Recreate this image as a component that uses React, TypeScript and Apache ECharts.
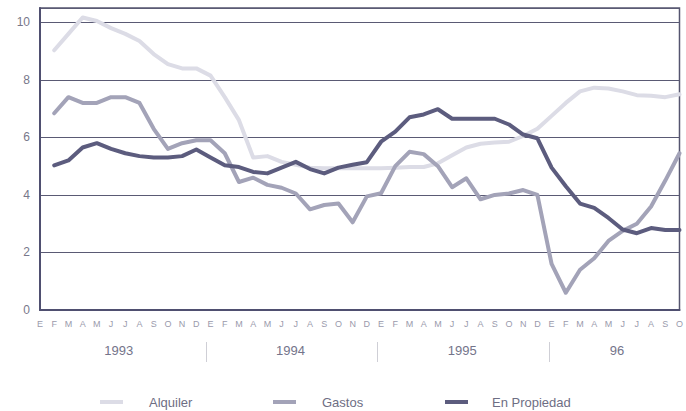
import React, { useEffect, useRef } from "react";
import * as echarts from "echarts";

const monthLabels = [
  "E","F","M","A","M","J","J","A","S","O","N","D",
  "E","F","M","A","M","J","J","A","S","O","N","D",
  "E","F","M","A","M","J","J","A","S","O","N","D",
  "E","F","M","A","M","J","J","A","S","O",
];

const yearLabels = ["1993", "1994", "1995", "96"];
const yearStartIndex = [0, 12, 24, 36];
const yearEndIndex = [11, 23, 35, 45];

const seriesNames = ["Alquiler", "Gastos", "En Propiedad"];

const alquiler = [
  null, 9.03, 9.6, 10.17, 10.05, 9.8, 9.6, 9.35, 8.9, 8.55, 8.4, 8.4,
  8.15, 7.4, 6.6, 5.3, 5.35, 5.15, 5.05, 4.95, 4.93, 4.93, 4.93, 4.93,
  4.93, 4.95, 4.97, 4.97, 5.1, 5.38, 5.65, 5.78, 5.82, 5.85, 6.05, 6.3,
  6.75, 7.2, 7.6, 7.73, 7.7, 7.6, 7.47, 7.45, 7.4, 7.5,
];

const gastos = [
  null, 6.84, 7.4, 7.2, 7.2, 7.4, 7.4, 7.2, 6.3, 5.6, 5.8, 5.9,
  5.9, 5.45, 4.45, 4.6, 4.35, 4.25, 4.05, 3.5, 3.65, 3.7, 3.05, 3.95,
  4.06, 5.0, 5.5, 5.42, 5.0, 4.27, 4.58, 3.85, 4.0, 4.05, 4.17, 4.0,
  1.6, 0.6, 1.4, 1.8, 2.4, 2.75, 3.0, 3.6, 4.5, 5.45,
];

const enPropiedad = [
  null, 5.03, 5.2, 5.65, 5.8, 5.6, 5.45, 5.35, 5.3, 5.3, 5.35, 5.58,
  5.3, 5.03, 4.97, 4.8, 4.75, 4.95, 5.15, 4.9, 4.75, 4.95, 5.05, 5.14,
  5.85, 6.2, 6.7, 6.8, 6.98, 6.65, 6.65, 6.65, 6.65, 6.45, 6.1, 5.97,
  4.95, 4.3, 3.7, 3.55, 3.2, 2.8, 2.67, 2.85, 2.78, 2.78,
];

const colors = ["#dcdce6", "#a3a3b8", "#5c5c7e"];

export default function App() {
  const ref = useRef<HTMLDivElement>(null);

  useEffect(() => {
    if (!ref.current) return;
    const chart = echarts.init(ref.current, undefined, { renderer: "svg" });
    const W = 686;
    const gridLeft = 40;
    const gridRight = 2;
    const step = (W - gridLeft - gridRight) / (monthLabels.length - 1);
    const xAt = (i: number) => gridLeft + i * step;
    const font = "Liberation Sans, Arial, sans-serif";

    const graphics: any[] = [];
    yearLabels.forEach((lab, k) => {
      const s = yearStartIndex[k];
      const e = yearEndIndex[k];
      let cx = (xAt(s) + xAt(e)) / 2;
      if (k === 3) cx = 617;
      graphics.push({
        type: "text",
        x: cx,
        y: 350,
        style: {
          text: lab,
          fill: "#74748a",
          font: `13px ${font}`,
          textAlign: "center",
          textVerticalAlign: "middle",
        },
      });
      if (k > 0) {
        const sx = Math.round((xAt(s - 1) + xAt(s)) / 2) + 1.5;
        graphics.push({
          type: "line",
          shape: { x1: sx, y1: 342, x2: sx, y2: 362 },
          style: { stroke: "#cfcfd6", lineWidth: 1 },
        });
      }
    });

    const legendPos = [
      { sx: 100, tx: 149 },
      { sx: 273, tx: 322 },
      { sx: 445, tx: 492 },
    ];
    seriesNames.forEach((n, k) => {
      graphics.push({
        type: "line",
        shape: { x1: legendPos[k].sx, y1: 402, x2: legendPos[k].sx + 23, y2: 402 },
        style: { stroke: colors[k], lineWidth: 4 },
      });
      graphics.push({
        type: "text",
        x: legendPos[k].tx,
        y: 402,
        style: {
          text: n,
          fill: "#6e6e84",
          font: `13px ${font}`,
          textAlign: "left",
          textVerticalAlign: "middle",
        },
      });
    });

    const mkSeries = (name: string, data: any[], color: string) => ({
      name,
      type: "line",
      data,
      symbol: "none",
      smooth: false,
      connectNulls: false,
      lineStyle: { color, width: 4, join: "round", cap: "round" },
      itemStyle: { color },
    });

    chart.setOption({
      animation: false,
      backgroundColor: "#ffffff",
      textStyle: { fontFamily: font },
      grid: {
        left: gridLeft,
        right: gridRight,
        top: 8,
        bottom: 101,
        show: true,
        borderColor: "#55556f",
        borderWidth: 1.5,
        backgroundColor: "transparent",
      },
      xAxis: {
        type: "category",
        data: monthLabels,
        boundaryGap: false,
        axisLine: { show: true, lineStyle: { color: "#4f4f70", width: 2 } },
        axisTick: { show: false },
        axisLabel: {
          interval: 0,
          color: "#9a9aac",
          fontSize: 9,
          margin: 9,
          fontFamily: font,
        },
        splitLine: { show: false },
      },
      yAxis: {
        type: "value",
        min: 0,
        max: 10.5,
        interval: 2,
        axisLine: { show: true, lineStyle: { color: "#4f4f70", width: 2 } },
        axisTick: { show: false },
        axisLabel: {
          color: "#77778a",
          fontSize: 12,
          margin: 10,
          showMaxLabel: false,
          fontFamily: font,
        },
        splitLine: { show: true, lineStyle: { color: "#5a5a74", width: 1.2 } },
      },
      series: [
        mkSeries(seriesNames[0], alquiler, colors[0]),
        mkSeries(seriesNames[1], gastos, colors[1]),
        mkSeries(seriesNames[2], enPropiedad, colors[2]),
      ],
      graphic: graphics,
    });

    return () => chart.dispose();
  }, []);

  return (
    <div
      ref={ref}
      style={{ position: "fixed", left: 0, top: 0, width: 686, height: 411 }}
    />
  );
}
